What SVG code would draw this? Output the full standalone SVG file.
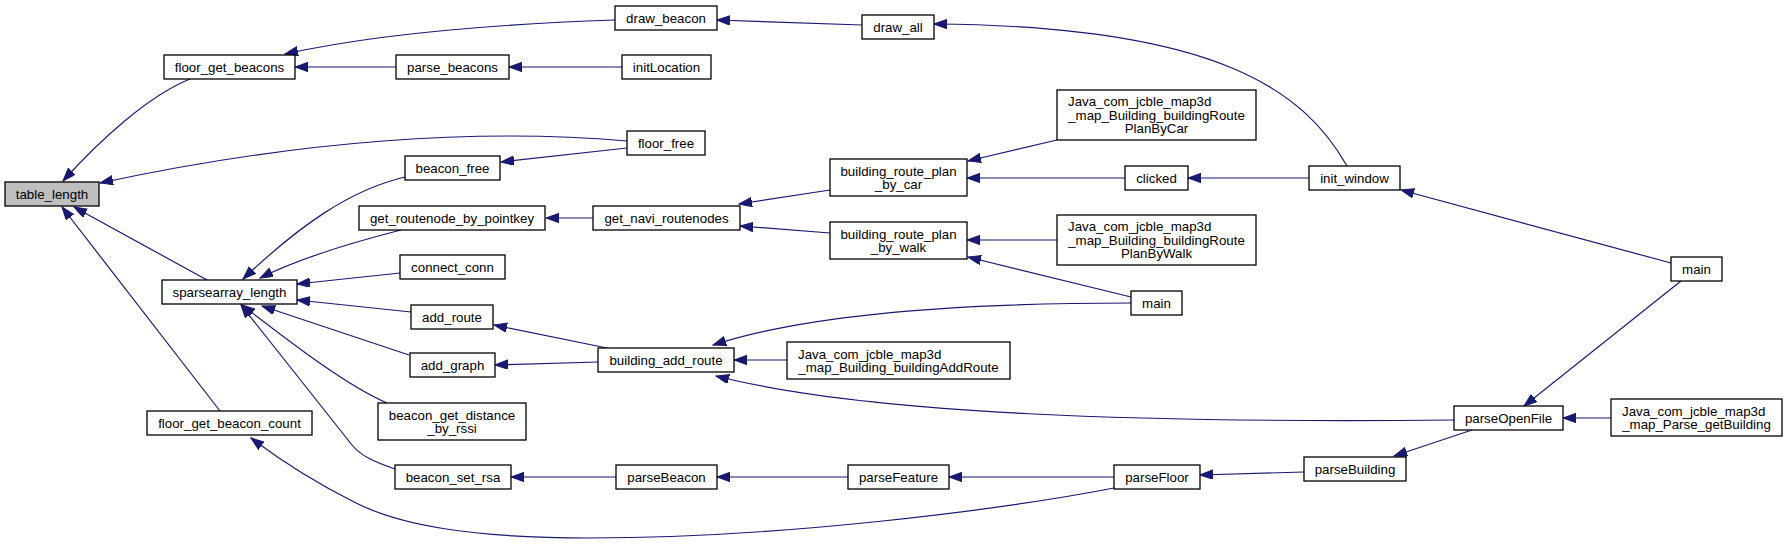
<svg xmlns="http://www.w3.org/2000/svg" width="1787" height="546" viewBox="0 0 1787 546">
<defs>
<marker id="arr" markerUnits="userSpaceOnUse" markerWidth="14" markerHeight="10" refX="13" refY="4.7" orient="auto">
<path d="M0,0 L13,4.7 L0,9.4 z" fill="#191970" stroke="#191970" stroke-width="1"/>
</marker>
<style>
.n rect{fill:#ffffff;stroke:#000000;stroke-width:1.3}
.n.root rect{fill:#bfbfbf}
.n text{font-family:"Liberation Sans",Arial,sans-serif;font-size:13.3px;fill:#000000;text-anchor:middle}
.n text.l{text-anchor:start}
#edges path{fill:none;stroke:#191970;stroke-width:1.2;marker-end:url(#arr)}
</style>
</defs>
<rect width="1787" height="546" fill="#ffffff"/>
<g id="edges">
<path d="M190,79 C148,96 100,140 63,181"/>
<path d="M627,141 C480,128 300,140 100,183"/>
<path d="M207,280 L74,207"/>
<path d="M220,411 L62,207"/>
<path d="M396,67 L295,67"/>
<path d="M615,20 C500,24 380,33 285,54"/>
<path d="M862,25 L717,20"/>
<path d="M1347,166 C1305,92 1220,26 934,24"/>
<path d="M622,67 L509,67"/>
<path d="M405,177 C350,190 300,225 243,279"/>
<path d="M401,230 C350,243 300,258 260,278"/>
<path d="M400,273 L297,284"/>
<path d="M411,312 L297,300"/>
<path d="M409,355 L262,306"/>
<path d="M387,403 C345,385 285,338 242,305"/>
<path d="M395,469 C372,461 360,455 352,445 L241,305"/>
<path d="M1114,488 C1000,510 780,538 590,538 C470,538 400,525 356,503 C310,480 280,460 251,438"/>
<path d="M616,477 L511,477"/>
<path d="M848,477 L717,477"/>
<path d="M1114,477 L949,477"/>
<path d="M1304,472 L1200,475"/>
<path d="M1472,430 L1394,456"/>
<path d="M1611,418 L1563,418"/>
<path d="M1681,281 L1524,406"/>
<path d="M1671,263 L1401,190"/>
<path d="M1454,420 C1150,423 870,415 716,376"/>
<path d="M1131,303 C1000,303 820,310 713,345"/>
<path d="M1131,297 L968,257"/>
<path d="M787,360 L734,360"/>
<path d="M607,348 L494,325"/>
<path d="M598,362 L495,365"/>
<path d="M593,218 L546,218"/>
<path d="M830,190 L739,204"/>
<path d="M830,233 L740,226"/>
<path d="M1057,140 L968,161"/>
<path d="M1125,178 L967,178"/>
<path d="M1309,178 L1188,178"/>
<path d="M1057,240 L967,240"/>
<path d="M627,148 L501,162"/>
</g>
<g id="table_length" class="n root"><rect x="5" y="182" width="94" height="24"/><text x="52" y="198.5">table_length</text></g>
<g id="floor_get_beacons" class="n"><rect x="164" y="55" width="131" height="24"/><text x="229.5" y="71.5">floor_get_beacons</text></g>
<g id="parse_beacons" class="n"><rect x="396" y="55" width="113" height="24"/><text x="452.5" y="71.5">parse_beacons</text></g>
<g id="draw_beacon" class="n"><rect x="615" y="6" width="102" height="24"/><text x="666" y="22.5">draw_beacon</text></g>
<g id="draw_all" class="n"><rect x="862" y="15" width="72" height="24"/><text x="898" y="31.5">draw_all</text></g>
<g id="initLocation" class="n"><rect x="622" y="55" width="89" height="24"/><text x="666.5" y="71.5">initLocation</text></g>
<g id="floor_free" class="n"><rect x="627" y="131" width="78" height="24"/><text x="666" y="147.5">floor_free</text></g>
<g id="beacon_free" class="n"><rect x="405" y="156" width="95" height="24"/><text x="452.5" y="172.5">beacon_free</text></g>
<g id="get_routenode_by_pointkey" class="n"><rect x="359" y="206" width="186" height="24"/><text x="452" y="222.5">get_routenode_by_pointkey</text></g>
<g id="get_navi_routenodes" class="n"><rect x="593" y="206" width="147" height="24"/><text x="666.5" y="222.5">get_navi_routenodes</text></g>
<g id="building_route_plan_by_car" class="n"><rect x="830" y="159" width="137" height="37"/><text x="898.5" y="175.5">building_route_plan</text><text x="898.5" y="189">_by_car</text></g>
<g id="building_route_plan_by_walk" class="n"><rect x="830" y="222" width="137" height="37"/><text x="898.5" y="238.5">building_route_plan</text><text x="898.5" y="252">_by_walk</text></g>
<g id="java_plan_by_car" class="n"><rect x="1057" y="90" width="199" height="50"/><text class="l" x="1068" y="106.2">Java_com_jcble_map3d</text><text x="1156.5" y="119.5">_map_Building_buildingRoute</text><text x="1156.5" y="132.8">PlanByCar</text></g>
<g id="java_plan_by_walk" class="n"><rect x="1057" y="215" width="199" height="50"/><text class="l" x="1068" y="231.2">Java_com_jcble_map3d</text><text x="1156.5" y="244.5">_map_Building_buildingRoute</text><text x="1156.5" y="257.8">PlanByWalk</text></g>
<g id="clicked" class="n"><rect x="1125" y="166" width="63" height="24"/><text x="1156.5" y="182.5">clicked</text></g>
<g id="init_window" class="n"><rect x="1309" y="166" width="91" height="24"/><text x="1354.5" y="182.5">init_window</text></g>
<g id="main_right" class="n"><rect x="1671" y="257" width="51" height="24"/><text x="1696.5" y="273.5">main</text></g>
<g id="connect_conn" class="n"><rect x="400" y="255" width="105" height="24"/><text x="452.5" y="271.5">connect_conn</text></g>
<g id="sparsearray_length" class="n"><rect x="162" y="280" width="135" height="24"/><text x="229.5" y="296.5">sparsearray_length</text></g>
<g id="add_route" class="n"><rect x="411" y="305" width="82" height="24"/><text x="452" y="321.5">add_route</text></g>
<g id="add_graph" class="n"><rect x="410" y="353" width="85" height="24"/><text x="452.5" y="369.5">add_graph</text></g>
<g id="beacon_get_distance_by_rssi" class="n"><rect x="378" y="403" width="148" height="37"/><text x="452" y="419.5">beacon_get_distance</text><text x="452" y="433">_by_rssi</text></g>
<g id="floor_get_beacon_count" class="n"><rect x="147" y="411" width="165" height="24"/><text x="229.5" y="427.5">floor_get_beacon_count</text></g>
<g id="beacon_set_rsa" class="n"><rect x="395" y="465" width="116" height="24"/><text x="453" y="481.5">beacon_set_rsa</text></g>
<g id="building_add_route" class="n"><rect x="598" y="348" width="136" height="24"/><text x="666" y="364.5">building_add_route</text></g>
<g id="java_add_route" class="n"><rect x="787" y="342" width="223" height="37"/><text class="l" x="798" y="358.5">Java_com_jcble_map3d</text><text x="898.5" y="372">_map_Building_buildingAddRoute</text></g>
<g id="main_mid" class="n"><rect x="1131" y="291" width="51" height="24"/><text x="1156.5" y="307.5">main</text></g>
<g id="parseBeacon" class="n"><rect x="616" y="465" width="101" height="24"/><text x="666.5" y="481.5">parseBeacon</text></g>
<g id="parseFeature" class="n"><rect x="848" y="465" width="101" height="24"/><text x="898.5" y="481.5">parseFeature</text></g>
<g id="parseFloor" class="n"><rect x="1114" y="465" width="86" height="24"/><text x="1157" y="481.5">parseFloor</text></g>
<g id="parseBuilding" class="n"><rect x="1304" y="457" width="102" height="24"/><text x="1355" y="473.5">parseBuilding</text></g>
<g id="parseOpenFile" class="n"><rect x="1454" y="406" width="109" height="24"/><text x="1508.5" y="422.5">parseOpenFile</text></g>
<g id="java_get_building" class="n"><rect x="1611" y="399" width="171" height="37"/><text class="l" x="1622" y="415.5">Java_com_jcble_map3d</text><text x="1696.5" y="429">_map_Parse_getBuilding</text></g>
</svg>
